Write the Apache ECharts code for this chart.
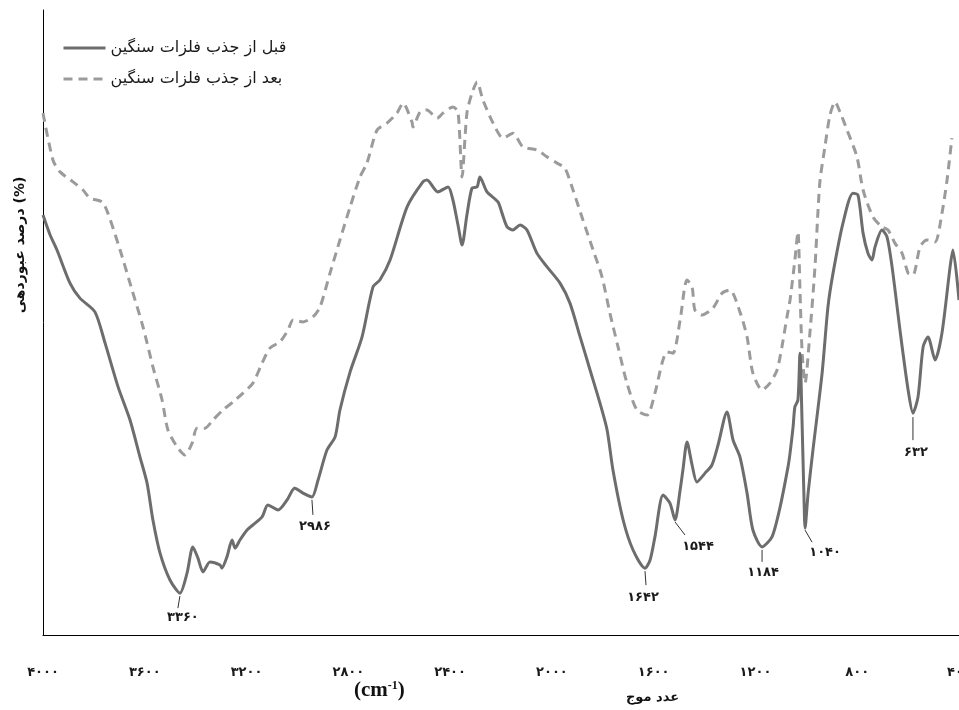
<!DOCTYPE html>
<html>
<head>
<meta charset="utf-8">
<script src="https://cdn.jsdelivr.net/npm/echarts@6/dist/echarts.min.js"></script>
<style>
html,body{margin:0;padding:0;background:#fff;}
#chart{width:959px;height:710px;}
</style>
</head>
<body>
<div id="chart"></div>
<script>
// ---- data ----
const seriesNames = ['قبل از جذب فلزات سنگین', 'بعد از جذب فلزات سنگین'];

const beforeX = [4000,3972,3945,3894,3855,3796,3756,3705,3658,3619,3591,3568,3540,3501,3462,3434,3411,3391,3371,3344,3304,3297,3277,3257,3245,3226,3198,3175,3139,3116,3076,3041,3010,2978,2943,2919,2884,2852,2833,2793,2746,2703,2676,2636,2569,2507,2491,2448,2408,2389,2369,2353,2334,2314,2294,2283,2255,2212,2196,2176,2153,2125,2098,2059,2019,1968,1929,1889,1850,1811,1783,1760,1720,1681,1634,1614,1595,1563,1536,1516,1496,1485,1469,1449,1430,1398,1371,1347,1312,1288,1261,1233,1210,1174,1135,1103,1072,1064,1052,1045,1033,1025,1017,1009,1005,993,974,938,915,895,856,817,797,777,758,742,730,703,683,663,632,600,581,561,541,522,494,467,435,424,400];
const beforeY = [67.2,64.0,61.6,56.3,53.9,51.7,46.7,39.7,34.4,28.5,24.3,18.4,13.1,8.8,6.7,9.9,14.1,12.3,10.1,11.7,11.2,10.7,12.5,15.2,13.9,15.2,16.8,17.6,18.9,20.8,20.0,21.6,23.5,22.7,22.1,24.8,29.6,31.7,36.0,42.1,47.7,55.7,56.8,60.0,68.5,72.5,72.8,70.9,71.7,69.6,65.6,62.4,67.2,71.5,71.7,73.3,70.9,69.3,67.5,65.3,64.8,65.6,64.8,61.1,58.9,56.3,53.1,47.7,42.4,37.1,32.8,26.4,18.4,13.6,10.7,12.0,15.7,22.4,21.1,18.4,23.2,26.4,30.9,27.2,24.5,25.9,27.2,30.4,35.7,31.2,28.5,22.7,16.8,14.1,15.7,20.5,26.9,29.1,33.3,36.5,37.6,45.1,34.4,21.6,17.1,22.7,29.6,41.9,52.5,57.9,65.9,70.7,70.4,64.3,61.1,60.0,62.1,64.8,63.7,58.9,48.8,39.2,35.5,38.1,46.1,47.7,44.0,48.3,58.9,61.6,53.6];

const afterX = [4000,3961,3933,3882,3843,3815,3768,3745,3697,3650,3607,3568,3532,3509,3473,3442,3414,3395,3363,3332,3293,3253,3214,3175,3139,3108,3069,3037,3017,2978,2939,2911,2872,2833,2793,2754,2727,2687,2648,2609,2585,2550,2546,2518,2491,2451,2428,2389,2369,2353,2334,2314,2294,2271,2231,2192,2153,2114,2059,2019,1980,1949,1917,1878,1838,1803,1772,1740,1705,1666,1626,1595,1567,1548,1524,1496,1469,1449,1438,1410,1367,1331,1300,1261,1233,1210,1174,1143,1115,1096,1076,1064,1045,1033,1025,1017,1005,986,966,954,946,927,907,887,868,840,801,777,738,703,679,652,624,600,581,553,526,494,467,447,428];
const afterY = [83.5,76.0,74.1,72.5,71.2,69.9,69.3,67.5,61.6,55.2,49.3,42.9,37.6,32.8,30.1,28.8,30.7,33.1,33.1,34.4,36.0,37.3,38.7,40.3,43.5,45.9,46.9,48.8,50.4,50.1,50.9,52.5,57.9,63.2,68.5,73.3,75.5,80.8,81.9,83.5,85.1,82.1,81.3,83.7,84.0,82.7,83.5,84.5,83.7,73.3,83.5,86.7,88.5,85.6,81.9,79.5,80.3,78.1,77.6,76.5,75.5,74.7,71.2,66.4,61.6,57.3,51.5,46.1,40.3,36.0,35.2,38.7,43.5,45.3,45.1,50.4,56.8,55.7,52.0,51.2,52.3,54.7,55.2,51.7,47.7,41.9,39.2,40.3,42.4,46.1,50.9,53.6,60.0,64.5,55.2,45.6,40.3,48.3,58.9,68.0,72.8,78.1,83.2,85.3,83.7,80.8,76.5,71.2,66.9,65.3,64.8,62.7,61.1,57.9,57.6,62.1,63.2,62.9,67.5,72.8,79.5];

const peakLabels = ['۳۳۶۰','۲۹۸۶','۱۶۴۲','۱۵۴۴','۱۱۸۴','۱۰۴۰','۶۳۲'];
const peakX = [3462, 2943, 1634, 1516, 1174, 1005, 581];
const peakY = [6.7, 22.1, 10.7, 18.4, 14.1, 17.1, 35.5];

const xTickValues = [4000,3600,3200,2800,2400,2000,1600,1200,800,400];
const xTickLabels = ['۴۰۰۰','۳۶۰۰','۳۲۰۰','۲۸۰۰','۲۴۰۰','۲۰۰۰','۱۶۰۰','۱۲۰۰','۸۰۰','۴۰۰'];

const xTitleFa = 'عدد موج';
const yTitle = 'درصد عبوردهی (%)';

// ---- build ----
const zip = (a, b) => a.map((v, i) => [v, b[i]]);
const tickMap = {};
xTickValues.forEach((v, i) => { tickMap[v] = xTickLabels[i]; });
const peakData = peakX.map((v, i) => [v, peakY[i], i]);

// leader style: [lineStartDy, lineEndDx, lineEndDy, textDx, textDy]
const leaderStyle = [
  [3, -2, 15, 3, 24],
  [3, 1, 18, 3, 30],
  [3, 1, 17, -2, 29],
  [2, 10, 15, 23, 27],
  [3, 0, 15, 1, 26],
  [2, 7, 14, 20, 24],
  [4, 0, 27, 3, 39]
];

const chart = echarts.init(document.getElementById('chart'), null, {renderer: 'canvas'});
const faFont = '"DejaVu Sans", "Noto Sans", sans-serif';

chart.setOption({
  animation: false,
  backgroundColor: '#ffffff',
  grid: {left: 43, right: 0, top: 10, bottom: 75, outerBoundsMode: 'none', containLabel: false},
  legend: {
    data: seriesNames,
    orient: 'vertical',
    left: 57,
    top: 35,
    itemWidth: 42,
    itemHeight: 14,
    itemGap: 15,
    lineStyle: {width: 3},
    itemStyle: {color: 'rgba(0,0,0,0)', borderColor: 'rgba(0,0,0,0)', borderWidth: 0},
    textStyle: {fontFamily: faFont, fontSize: 16, color: '#1a1a1a'}
  },
  xAxis: {
    type: 'value',
    min: 400,
    max: 4000,
    interval: 400,
    inverse: true,
    axisLine: {show: true, lineStyle: {color: '#000', width: 1}},
    axisTick: {show: false},
    splitLine: {show: false},
    axisLabel: {
      margin: 31,
      fontFamily: faFont,
      fontWeight: 'bold',
      fontSize: 13,
      color: '#1a1a1a',
      showMinLabel: true,
      showMaxLabel: true,
      formatter: v => tickMap[v] || ''
    }
  },
  yAxis: {
    type: 'value',
    min: 0,
    max: 100,
    axisLine: {show: true, lineStyle: {color: '#000', width: 1}},
    axisTick: {show: false},
    axisLabel: {show: false},
    splitLine: {show: false}
  },
  graphic: [
    {
      type: 'text', left: 354, top: 680,
      style: {
        text: '{a|(cm}{b|-1}{a|)}',
        rich: {
          a: {fontFamily: '"Liberation Serif", serif', fontWeight: 'bold', fontSize: 21, fill: '#111'},
          b: {fontFamily: '"Liberation Serif", serif', fontWeight: 'bold', fontSize: 12, fill: '#111', verticalAlign: 'top', padding: [0, 0, 10, 0]}
        }
      }
    },
    {
      type: 'text', left: 626, top: 691,
      style: {text: xTitleFa, fontFamily: faFont, fontWeight: 'bold', fontSize: 13, fill: '#111'}
    },
    {
      type: 'text', x: 20, y: 245, rotation: Math.PI / 2,
      style: {text: yTitle, fontFamily: faFont, fontWeight: 'bold', fontSize: 14, fill: '#111', align: 'center', verticalAlign: 'middle'}
    }
  ],
  series: [
    {
      name: seriesNames[0],
      type: 'line',
      data: zip(beforeX, beforeY),
      symbol: 'none',
      smooth: 0.25,
      lineStyle: {color: '#6d6d6d', width: 3},
      itemStyle: {color: '#6d6d6d'},
      z: 3
    },
    {
      name: seriesNames[1],
      type: 'line',
      data: zip(afterX, afterY),
      symbol: 'none',
      smooth: 0.25,
      lineStyle: {color: '#9b9b9b', width: 3, type: [9, 6]},
      itemStyle: {color: '#9b9b9b'},
      z: 2
    },
    {
      name: 'peaks',
      type: 'custom',
      data: peakData,
      silent: true,
      z: 5,
      renderItem: function (params, api) {
        const p = api.coord([api.value(0), api.value(1)]);
        const s = leaderStyle[params.dataIndex];
        return {
          type: 'group',
          children: [
            {type: 'line', shape: {x1: p[0], y1: p[1] + s[0], x2: p[0] + s[1], y2: p[1] + s[2]},
             style: {stroke: '#333', lineWidth: 1}},
            {type: 'text', x: p[0] + s[3], y: p[1] + s[4],
             style: {text: peakLabels[params.dataIndex], fontFamily: faFont, fontWeight: 'bold', fontSize: 13,
                     fill: '#1a1a1a', align: 'center', verticalAlign: 'middle'}}
          ]
        };
      }
    }
  ]
});
</script>
</body>
</html>
